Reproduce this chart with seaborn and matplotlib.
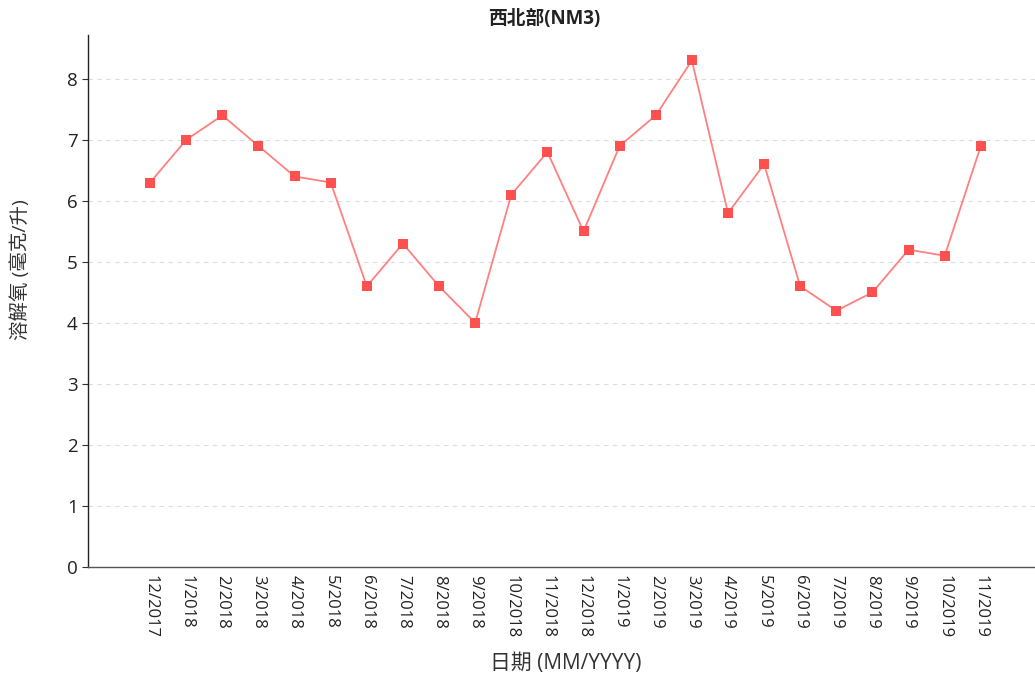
import matplotlib
matplotlib.use("Agg")
import matplotlib.pyplot as plt
import seaborn as sns
import pandas as pd

months = ["12/2017", "1/2018", "2/2018", "3/2018", "4/2018", "5/2018", "6/2018",
          "7/2018", "8/2018", "9/2018", "10/2018", "11/2018", "12/2018", "1/2019",
          "2/2019", "3/2019", "4/2019", "5/2019", "6/2019", "7/2019", "8/2019",
          "9/2019", "10/2019", "11/2019"]
oxygen = [6.3, 7.0, 7.4, 6.9, 6.4, 6.3, 4.6, 5.3, 4.6, 4.0, 6.1, 6.8,
          5.5, 6.9, 7.4, 8.3, 5.8, 6.6, 4.6, 4.2, 4.5, 5.2, 5.1, 6.9]

df = pd.DataFrame({"idx": range(len(months)), "month": months, "do": oxygen})

sns.set_theme(style="white")
plt.rcParams['font.family'] = ['Open Sans', 'Noto Sans CJK SC', 'DejaVu Sans']

fig = plt.figure(figsize=(10.35, 6.77), dpi=100)
ax = fig.add_axes([0.085, 0.1625, 0.915, 0.786])

sns.lineplot(data=df, x="idx", y="do", ax=ax, color="#ff8080", linewidth=1.3)
ax.scatter(df["idx"], df["do"], marker="s", s=50, color="#ff5050", zorder=3, linewidths=0)

ax.set_xlim(-1.72, 24.5)
ax.set_ylim(0, 8.72)
ax.set_yticks(range(0, 9))
ax.set_xticks(df["idx"])
ax.set_xticklabels(months, rotation=-90, fontsize=12, color="#222222")
ax.tick_params(axis="x", length=0, pad=6)
ax.tick_params(axis="y", length=4, width=0.8, color="#333333", labelsize=13.5,
               labelcolor="#222222", left=True)

ax.grid(axis="y", linestyle=(0, (4, 4)), color="#dddddd", linewidth=0.8)
ax.set_axisbelow(True)

for side in ["top", "right"]:
    ax.spines[side].set_visible(False)
ax.spines["left"].set_color("#222222")
ax.spines["left"].set_linewidth(1.0)
ax.spines["bottom"].set_color("#555555")
ax.spines["bottom"].set_linestyle((0, (2, 1)))
ax.spines["bottom"].set_linewidth(1.0)

ax.set_xlabel("日期 (MM/YYYY)", fontsize=15, color="#333333")
ax.xaxis.set_label_coords(0.505, -0.1617)
ax.set_ylabel("溶解氧 (毫克/升)", fontsize=14, color="#333333")
ax.yaxis.set_label_coords(-0.0612, 0.558)
ax.set_title("西北部(NM3)", fontsize=13.5, fontweight="bold", color="#222222",
             x=0.482, pad=8)

fig.savefig("out.png", dpi=100)
